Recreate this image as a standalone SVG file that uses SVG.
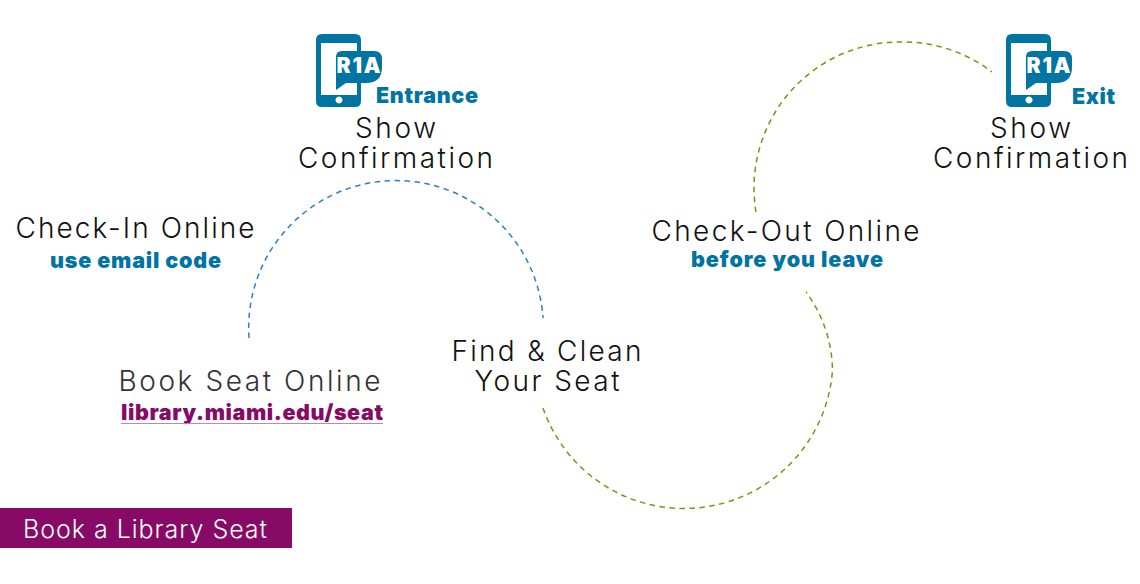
<svg xmlns="http://www.w3.org/2000/svg" width="1140" height="584" viewBox="0 0 1140 584">
<style>
.h{font-family:"Inter","Lato","Liberation Sans",sans-serif;font-weight:300;font-size:28px;fill:#111}
.b{font-family:"Inter","Liberation Sans",sans-serif;font-weight:900;font-size:21.5px;fill:#0074a3}
.i{fill:#0074a3}
.a{fill:none;stroke-width:1.5;stroke-dasharray:5.5 4.5}
</style>
<defs>
<g id="phone">
<path class="i" fill-rule="evenodd" d="M6 0H39Q45 0 45 6V67Q45 73 39 73H6Q0 73 0 67V6Q0 0 6 0ZM5 9V61H41V9Z M23 62.5a3.5 3.5 0 1 0 0.01 0Z"/>
<path class="i" d="M26 17H58Q66 17 66 25V33Q66 49 50 49H30L20 56V23Q20 17 26 17Z"/>
<text x="20.5" y="39" textLength="44" font-family="Inter,Liberation Sans,sans-serif" font-weight="900" font-size="21" fill="#fff">R1A</text>
</g>
</defs>
<g id="connectors">
<path class="a" stroke="#2f7fc1" d="M249 338A147 147 0 1 1 543 318"/>
<path class="a" stroke="#6f9a12" d="M543 408A149 149 0 0 0 832.5 370A134 134 0 0 0 806 292"/>
<path class="a" stroke="#6f9a12" d="M756 212A146 146 0 0 1 900 42A146 146 0 0 1 992 72"/>
</g>
<g id="entrance"><use href="#phone" x="316" y="34"/><text class="b" x="376" y="103" textLength="102">Entrance</text><text class="h" x="355" y="138" textLength="81">Show</text><text class="h" x="298" y="168" textLength="195">Confirmation</text></g>
<g id="exit"><use href="#phone" x="1006" y="34"/><text class="b" x="1072" y="104" textLength="43">Exit</text><text class="h" x="990" y="138" textLength="81">Show</text><text class="h" x="933" y="168" textLength="195">Confirmation</text></g>
<g id="checkin"><text class="h" x="15.5" y="238" textLength="239">Check-In Online</text><text class="b" x="50" y="268" textLength="171">use email code</text></g>
<g id="checkout"><text class="h" x="651.5" y="241" textLength="268">Check-Out Online</text><text class="b" x="691" y="267" textLength="192">before you leave</text></g>
<g id="find"><text class="h" x="451.5" y="361" textLength="190">Find &amp; Clean</text><text class="h" x="474.5" y="391" textLength="145">Your Seat</text></g>
<g id="book"><text class="h" x="118.5" y="391" textLength="262" style="fill:#333">Book Seat Online</text><text class="b" x="121" y="420" textLength="262" style="fill:#870a66">library.miami.edu/seat</text><rect x="121" y="423" width="262" height="1" fill="#b98aae"/></g>
<g id="button"><rect x="0" y="508" width="292" height="40" fill="#870a66"/><text x="23" y="538" textLength="244" font-family="Inter,Liberation Sans,sans-serif" font-weight="300" font-size="25" fill="#fff">Book a Library Seat</text></g>
</svg>
